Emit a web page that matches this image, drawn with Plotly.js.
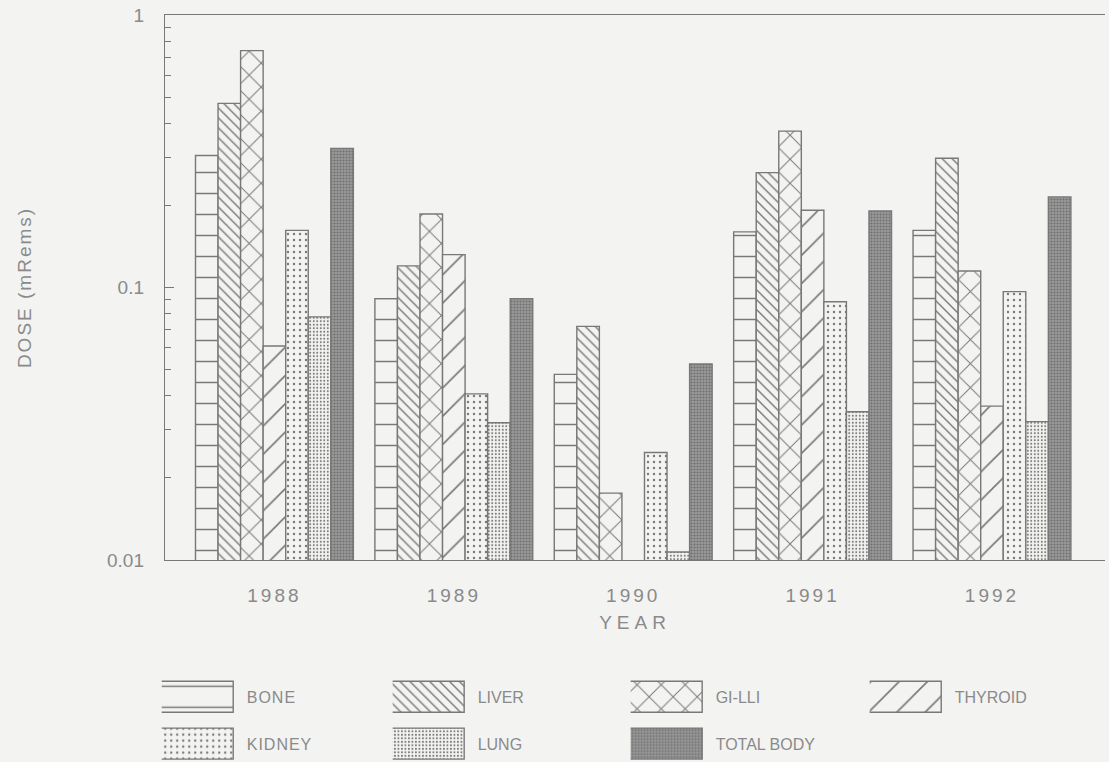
<!DOCTYPE html>
<html>
<head>
<meta charset="utf-8">
<script src="https://cdn.plot.ly/plotly-3.0.1.min.js"></script>
<style>
  html, body { margin: 0; padding: 0; background: #f3f3f1; }
  #chart { width: 1109px; height: 762px; }
  #chart .xtick text { letter-spacing: 3px; }
  #chart .g-xtitle text { letter-spacing: 5px; }
  #chart .g-ytitle text { letter-spacing: 2px; }
  #chart .legendtext { letter-spacing: 1px; }
</style>
</head>
<body>
<div id="chart"></div>
<script>
// Annual dose by organ (mRem), log scale
const years     = ['1988', '1989', '1990', '1991', '1992'];
const bone      = [0.305, 0.091, 0.048, 0.160, 0.162];
const liver     = [0.474, 0.120, 0.072, 0.264, 0.298];
const giLli     = [0.74, 0.186, 0.0176, 0.375, 0.115];
const thyroid   = [0.061, 0.132, null, 0.192, 0.0367];
const kidney    = [0.162, 0.0407, 0.0248, 0.0887, 0.0966];
const lung      = [0.078, 0.0319, 0.0107, 0.035, 0.0322];
const totalBody = [0.324, 0.091, 0.0524, 0.191, 0.215];

const yTickVals = [0.01, 0.1, 1];
const yTickText = ['0.01', '0.1', '1'];

const INK = '#787878';
const PAPER = '#f3f3f1';
const TEXT = '#8a8a8a';
const FONT = 'Liberation Sans, Arial, sans-serif';

function barTrace(name, values, pattern, legend) {
  return {
    type: 'bar',
    name: name,
    legendgroup: name,
    x: years,
    y: values,
    legend: legend,
    hoverinfo: 'x+y+name',
    marker: {
      color: pattern.bg || PAPER,
      line: { color: INK, width: 1.4 },
      pattern: Object.assign({ fgcolor: INK, bgcolor: PAPER, fillmode: 'replace' }, pattern)
    }
  };
}

// Legend is laid out as four columns of up to two entries each
const traces = [
  barTrace('BONE',       bone,      { shape: '-',  size: 21, solidity: 0.07 }, 'legend'),
  barTrace('LIVER',      liver,     { shape: '\\', size: 7,  solidity: 0.2 },  'legend2'),
  barTrace('GI-LLI',     giLli,     { shape: 'x',  size: 17, solidity: 0.11 }, 'legend3'),
  barTrace('THYROID',    thyroid,   { shape: '/',  size: 20, solidity: 0.08 }, 'legend4'),
  barTrace('KIDNEY',     kidney,    { shape: '.',  size: 6,  solidity: 0.12 }, 'legend'),
  barTrace('LUNG',       lung,      { shape: '.',  size: 3.5, solidity: 0.25 }, 'legend2'),
  barTrace('TOTAL BODY', totalBody, { shape: '.',  size: 3, solidity: 0.4, fgcolor: '#6f6f6f', bgcolor: '#9a9a9a', bg: '#8c8c8c' }, 'legend3')
];

const legendTop = -0.22;
function legendColumn(x) {
  return {
    orientation: 'v',
    x: x,
    y: legendTop,
    xanchor: 'left',
    yanchor: 'top',
    itemwidth: 75,
    traceorder: 'grouped',
    tracegroupgap: 23,
    bgcolor: 'rgba(0,0,0,0)',
    itemclick: false,
    itemdoubleclick: false,
    font: { family: FONT, size: 16, color: TEXT }
  };
}

const layout = {
  width: 1109,
  height: 762,
  margin: { l: 165, r: 4, t: 15, b: 202, autoexpand: false },
  paper_bgcolor: PAPER,
  plot_bgcolor: PAPER,
  barmode: 'group',
  bargap: 0.12,
  bargroupgap: 0,
  font: { family: FONT, color: TEXT },
  xaxis: {
    type: 'category',
    range: [-0.61, 4.63],
    automargin: false,
    showline: true,
    mirror: true,
    linecolor: INK,
    linewidth: 1.4,
    ticks: '',
    ticklabelstandoff: 18,
    tickfont: { family: FONT, size: 19, color: TEXT },
    title: { text: 'YEAR', font: { family: FONT, size: 19, color: TEXT }, standoff: 10 },
    showgrid: false,
    zeroline: false,
    fixedrange: true
  },
  yaxis: {
    type: 'log',
    range: [-2, 0],
    automargin: false,
    tickmode: 'array',
    tickvals: yTickVals,
    ticktext: yTickText,
    ticks: 'inside',
    ticklen: 9,
    tickcolor: INK,
    tickwidth: 1.2,
    minor: { ticks: 'inside', ticklen: 6, tickcolor: INK, tickwidth: 1, dtick: 'D1', showgrid: false },
    showline: true,
    linecolor: INK,
    linewidth: 1.4,
    ticklabelstandoff: 16,
    tickfont: { family: FONT, size: 19, color: TEXT },
    title: { text: 'DOSE (mRems)', font: { family: FONT, size: 19, color: TEXT }, standoff: 70 },
    showgrid: false,
    zeroline: false,
    fixedrange: true
  },
  showlegend: true,
  legend:  legendColumn(-0.0035),
  legend2: legendColumn(0.2422),
  legend3: legendColumn(0.4954),
  legend4: legendColumn(0.7497)
};

const gd = document.getElementById('chart');

// Wide rectangular legend swatches, filled with the same pattern as their bars
function styleSwatches() {
  const barFills = [];
  gd.querySelectorAll('.barlayer .trace').forEach(function (g, i) {
    const p = g.querySelector('.point path');
    barFills[i] = p ? p.style.fill : null;
  });
  gd.querySelectorAll('.legend .traces, [class^="legend"] .traces').forEach(function (item) {
    const d = item.__data__;
    const idx = d && d[0] && d[0].trace ? d[0].trace.index : null;
    item.querySelectorAll('.legendpoints path').forEach(function (p) {
      p.setAttribute('d', 'M29,15.5H-46V-15.5H29Z');
      if (idx !== null && barFills[idx]) p.style.fill = barFills[idx];
    });
  });
}

Plotly.newPlot(gd, traces, layout, { displayModeBar: false }).then(function () {
  styleSwatches();
  gd.on('plotly_afterplot', styleSwatches);
});
</script>
</body>
</html>
